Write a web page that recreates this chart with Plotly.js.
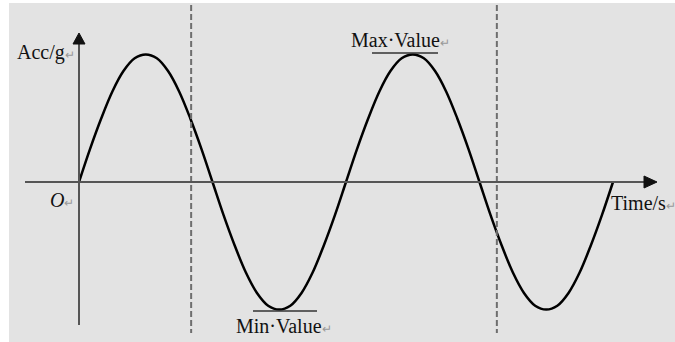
<!DOCTYPE html>
<html>
<head>
<meta charset="utf-8">
<script src="https://cdn.plot.ly/plotly-3.0.1.min.js"></script>
<style>html,body{margin:0;padding:0;background:#fff;}#chart{width:675px;height:342px;}</style>
</head>
<body>
<div id="chart"></div>
<script>
// Time (in half-periods, step 1/12) and acceleration (g) read from the drawn wave
const time = [0, 0.083, 0.167, 0.25, 0.333, 0.417, 0.5, 0.583, 0.667, 0.75, 0.833, 0.917,
  1, 1.083, 1.167, 1.25, 1.333, 1.417, 1.5, 1.583, 1.667, 1.75, 1.833, 1.917,
  2, 2.083, 2.167, 2.25, 2.333, 2.417, 2.5, 2.583, 2.667, 2.75, 2.833, 2.917,
  3, 3.083, 3.167, 3.25, 3.333, 3.417, 3.5, 3.583, 3.667, 3.75, 3.833, 3.917, 4];
const acc = [0, 0.26, 0.5, 0.71, 0.87, 0.97, 1, 0.97, 0.87, 0.71, 0.5, 0.26,
  0, -0.26, -0.5, -0.71, -0.87, -0.97, -1, -0.97, -0.87, -0.71, -0.5, -0.26,
  0, 0.26, 0.5, 0.71, 0.87, 0.97, 1, 0.97, 0.87, 0.71, 0.5, 0.26,
  0, -0.26, -0.5, -0.71, -0.87, -0.97, -1, -0.97, -0.87, -0.71, -0.5, -0.26, 0];
const dividerTimes = [0.84, 3.13];
const labels = {yAxis: 'Acc/g', xAxis: 'Time/s', origin: 'O', max: 'Max·Value', min: 'Min·Value'};

// pixel helpers (layout only)
const OX = 79, OY = 182, SX = 133.5, SY = 127.5, W = 675, H = 342;
const X = px => (px - OX) / SX;
const Y = py => (OY - py) / SY;

const ret = '<span style="font-size:12px;color:#999">↵</span>';
const font = {family: 'Liberation Serif, Times New Roman, serif', size: 20, color: '#111'};

const shapes = [
  {type: 'rect', layer: 'below', x0: X(9), x1: X(W + 5), y0: Y(3), y1: Y(H + 5), fillcolor: '#e3e3e3', line: {width: 0}},
  // dashed dividers
  ...dividerTimes.map(t => ({type: 'line', x0: t, x1: t, y0: Y(5), y1: Y(333), line: {color: '#6e6e6e', width: 2, dash: '6px,3px'}})),
  // x axis
  {type: 'line', x0: X(25), x1: X(646), y0: 0, y1: 0, line: {color: '#555', width: 2}},
  {type: 'path', path: `M ${X(644)} ${Y(176)} L ${X(657)} ${Y(182)} L ${X(644)} ${Y(188)} Z`, fillcolor: '#111', line: {color: '#111', width: 1}},
  // y axis
  {type: 'line', x0: 0, x1: 0, y0: Y(325), y1: Y(43), line: {color: '#555', width: 2}},
  {type: 'path', path: `M ${X(73)} ${Y(44)} L ${X(79)} ${Y(33)} L ${X(85)} ${Y(44)} Z`, fillcolor: '#111', line: {color: '#111', width: 1}},
  // max / min marker lines
  {type: 'line', x0: X(372), x1: X(438), y0: Y(53), y1: Y(53), line: {color: '#333', width: 1.5}},
  {type: 'line', x0: X(253), x1: X(317), y0: Y(311), y1: Y(311), line: {color: '#333', width: 1.5}}
];

const ann = (px, py, text) => ({x: X(px), y: Y(py), xref: 'x', yref: 'y', text: text, showarrow: false, xanchor: 'left', yanchor: 'middle', font: font});

const annotations = [
  ann(15, 52, labels.yAxis + ret),
  ann(349, 40, labels.max + ret),
  ann(234, 326, labels.min + ret),
  ann(48, 200, '<i>' + labels.origin + '</i>' + ret),
  ann(609, 203, labels.xAxis + ret)
];

const trace = {
  x: time, y: acc, type: 'scatter', mode: 'lines',
  line: {color: '#000', width: 2.5, shape: 'spline', smoothing: 1},
  hoverinfo: 'skip'
};

Plotly.newPlot('chart', [trace], {
  width: W, height: H,
  margin: {l: 0, r: 0, t: 0, b: 0, pad: 0},
  paper_bgcolor: '#fff', plot_bgcolor: 'rgba(0,0,0,0)',
  showlegend: false,
  xaxis: {range: [X(0), X(W)], visible: false, fixedrange: true},
  yaxis: {range: [Y(H), Y(0)], visible: false, fixedrange: true},
  shapes: shapes,
  annotations: annotations
}, {staticPlot: true, displayModeBar: false});
</script>
</body>
</html>
